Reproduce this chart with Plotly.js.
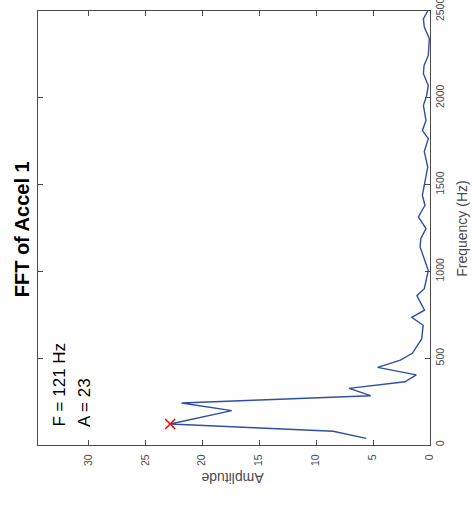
<!DOCTYPE html>
<html>
<head>
<meta charset="utf-8">
<script src="https://cdn.plot.ly/plotly-3.0.1.min.js"></script>
<style>html,body{margin:0;padding:0;background:#fff;}#chart{width:474px;height:508px;}</style>
</head>
<body>
<div id="chart"></div>
<script>
// Data (frequency in Hz, FFT amplitude)
var freqHz = [38, 79, 121, 161, 198, 242, 284, 326, 364, 404, 447, 489, 528, 611, 690, 735, 777, 860, 900, 1005, 1083, 1141, 1189, 1247, 1314, 1381, 1438, 1506, 1601, 1690, 1765, 1812, 1870, 1956, 2014, 2071, 2139, 2186, 2244, 2340, 2407, 2455, 2500];
var amplitude = [5.6, 8.5, 22.8, 20.1, 17.4, 21.8, 5.2, 7.1, 2.2, 1.2, 4.6, 2.6, 1.55, 0.73, 0.6, 1.6, 0.48, 1.15, 0.5, 0.15, 0.59, 0.87, 0.81, 0.35, 1.02, 0.44, 0.67, 0.5, 0.2, 0.5, 0.15, 0.67, 0.35, 0.58, 0.29, 0.15, 0.58, 0.52, 0.15, 0.06, 0.5, 0.58, 0.2];
var peakFreq = [121];
var peakAmp = [22.8];
var ampTicks = [0, 5, 10, 15, 20, 25, 30];
var freqTicks = [0, 500, 1000, 1500, 2000, 2500];

var FONT = 'Liberation Sans, Arial, Helvetica, sans-serif';
var AXC = '#4a4a4a';

var traces = [
  {x: amplitude, y: freqHz, type: 'scatter', mode: 'lines',
   line: {color: '#2f4fa3', width: 1.4}, hoverinfo: 'skip'},
  {x: peakAmp, y: peakFreq, type: 'scatter', mode: 'markers',
   marker: {symbol: 'x-thin-open', size: 10, color: '#ff0000', line: {color: '#ff0000', width: 1.5}}, hoverinfo: 'skip'}
];

var layout = {
  width: 474, height: 508,
  margin: {l: 38, r: 44, t: 11, b: 63, pad: 0},
  paper_bgcolor: '#ffffff', plot_bgcolor: '#ffffff',
  showlegend: false,
  font: {family: FONT, color: AXC},
  xaxis: {
    range: [34.4, 0], tickvals: ampTicks, tickangle: -90,
    ticks: 'inside', ticklen: 5, tickcolor: AXC, tickwidth: 1,
    showline: true, linecolor: AXC, linewidth: 1.2, mirror: 'ticks',
    showgrid: false, zeroline: false, ticklabelstandoff: 4,
    tickfont: {family: FONT, size: 10.5, color: AXC}
  },
  yaxis: {
    range: [0, 2500], tickvals: freqTicks, tickangle: -90, side: 'right',
    ticks: 'inside', ticklen: 5, tickcolor: AXC, tickwidth: 1,
    showline: true, linecolor: AXC, linewidth: 1.2, mirror: 'ticks',
    showgrid: false, zeroline: false, ticklabeloverflow: 'allow',
    tickfont: {family: FONT, size: 10.5, color: AXC}
  },
  annotations: [
    {text: '<b>FFT of Accel 1</b>', xref: 'paper', yref: 'paper', x: -0.0408, y: 0.497,
     xanchor: 'center', yanchor: 'middle', textangle: -90, showarrow: false,
     font: {family: FONT, size: 20, color: '#000000'}},
    {text: 'Amplitude', xref: 'paper', yref: 'paper', x: 0.497, y: -0.076,
     xanchor: 'center', yanchor: 'middle', textangle: 180, showarrow: false,
     font: {family: FONT, size: 14, color: AXC}},
    {text: 'Frequency (Hz)', xref: 'paper', yref: 'paper', x: 1.082, y: 0.4985,
     xanchor: 'center', yanchor: 'middle', textangle: -90, showarrow: false,
     font: {family: FONT, size: 14, color: AXC}},
    {text: 'F = 121 Hz', xref: 'paper', yref: 'paper', x: 0.0561, y: 0.1393,
     xanchor: 'center', yanchor: 'middle', textangle: -90, showarrow: false,
     font: {family: FONT, size: 17, color: '#000000'}},
    {text: 'A = 23', xref: 'paper', yref: 'paper', x: 0.1173, y: 0.099,
     xanchor: 'center', yanchor: 'middle', textangle: -90, showarrow: false,
     font: {family: FONT, size: 17, color: '#000000'}}
  ]
};

Plotly.newPlot('chart', traces, layout, {staticPlot: true, displayModeBar: false});
</script>
</body>
</html>
